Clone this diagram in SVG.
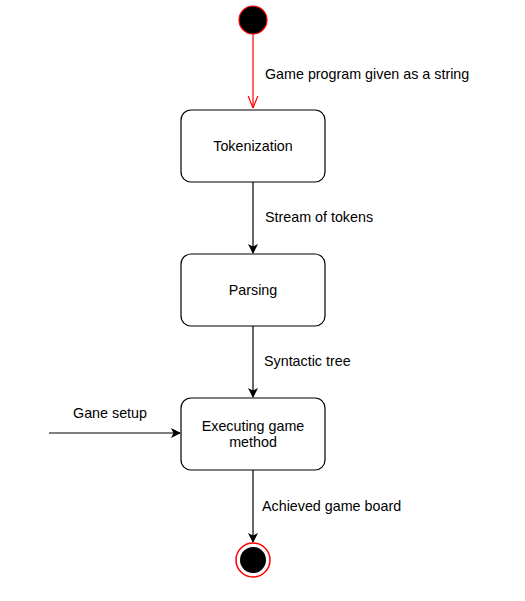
<svg xmlns="http://www.w3.org/2000/svg" width="525" height="601" viewBox="0 0 525 601">
<style>
text{font-family:"Liberation Sans",Arial,sans-serif;font-size:14.3px;fill:#000}
.box{fill:#fff;stroke:#000;stroke-width:1.2}
.c{stroke:#000;stroke-width:1.2;fill:none}
.lbl{text-anchor:start}
.mid{text-anchor:middle}
</style>
<defs>
<marker id="ah" viewBox="0 0 10 10" refX="9" refY="5" markerWidth="10" markerHeight="10" markerUnits="userSpaceOnUse" orient="auto">
<path d="M0,0 L10,5 L0,10 L2.5,5 Z" fill="#000"/>
</marker>
<marker id="open" viewBox="0 0 10 10" refX="10" refY="5" markerWidth="12" markerHeight="12" markerUnits="userSpaceOnUse" orient="auto">
<path d="M0,1 L10,5 L0,9" fill="none" stroke="#ff0000" stroke-width="1"/>
</marker>
</defs>
<rect width="525" height="601" fill="#fff"/>
<g id="connectors">
<line x1="253" y1="34" x2="253" y2="108" stroke="#ff0000" stroke-width="1.2" marker-end="url(#open)"/>
<line class="c" x1="253" y1="182" x2="253" y2="253" marker-end="url(#ah)"/>
<line class="c" x1="253" y1="326" x2="253" y2="397" marker-end="url(#ah)"/>
<line class="c" x1="49" y1="433" x2="180" y2="433" marker-end="url(#ah)"/>
<line class="c" x1="253" y1="470" x2="253" y2="542" marker-end="url(#ah)"/>
<text class="lbl" x="265" y="79">Game program given as a string</text>
<text class="lbl" x="265" y="222">Stream of tokens</text>
<text class="lbl" x="264" y="366">Syntactic tree</text>
<text class="mid" x="110" y="418">Gane setup</text>
<text class="lbl" x="262" y="511">Achieved game board</text>
</g>
<g id="start">
<circle cx="253" cy="20" r="14" fill="#000" stroke="#ff0000" stroke-width="1.2"/>
</g>
<g id="tokenization">
<rect class="box" x="181" y="110" width="144" height="72" rx="10"/>
<text class="mid" x="253" y="151">Tokenization</text>
</g>
<g id="parsing">
<rect class="box" x="181" y="254" width="144" height="72" rx="10"/>
<text class="mid" x="253" y="295">Parsing</text>
</g>
<g id="executing">
<rect class="box" x="181" y="398" width="144" height="72" rx="10"/>
<text class="mid" x="253" y="431">Executing game</text>
<text class="mid" x="253" y="447">method</text>
</g>
<g id="end">
<circle cx="253" cy="560" r="17" fill="#fff" stroke="#ff0000" stroke-width="1.5"/>
<circle cx="253" cy="560" r="13" fill="#000"/>
</g>
</svg>
